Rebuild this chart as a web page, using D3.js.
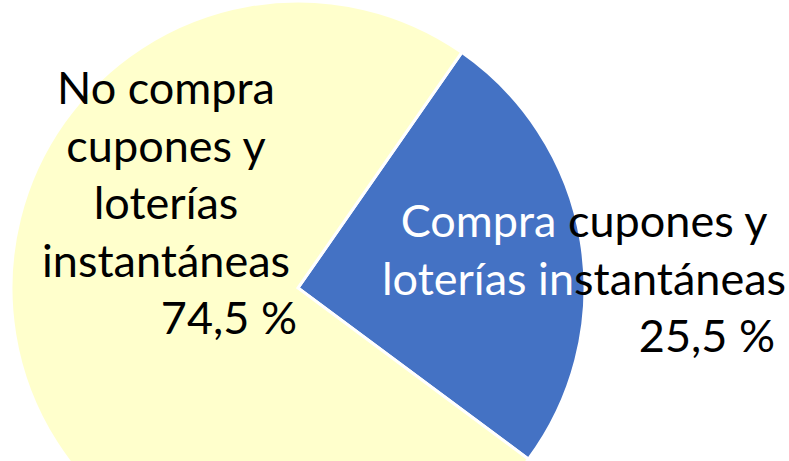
<!DOCTYPE html>
<html>
<head>
<meta charset="utf-8">
<script src="https://cdn.jsdelivr.net/npm/d3@7"></script>
<style>
  body { margin: 0; background: #fff; overflow: hidden; }
  text { font-family: Lato, "Open Sans", sans-serif; }
</style>
</head>
<body>
<script>
// Data
const categories = ["Compra cupones y loterías instantáneas", "No compra cupones y loterías instantáneas"];
const values = [25.5, 74.5];
const labelLines = [["Compra cupones y", "loterías instantáneas"], ["No compra", "cupones y", "loterías", "instantáneas"]];
const colors = ["#4472C4", "#FFFFCC"];

const W = 789, H = 461;
const cx = 298, cy = 288, r = 287;
const fontSize = 45;
const lineGap = 57.5;

// comma decimal like the original
const locale = d3.formatLocale({ decimal: ",", thousands: ".", grouping: [3], currency: ["", "€"] });
const fmt = locale.format(".1f");

const svg = d3.select("body").append("svg")
    .attr("width", W)
    .attr("height", H);

const g = svg.append("g").attr("transform", "translate(" + cx + "," + cy + ")");

// pie starts at the upper-right edge of the blue slice
const startA = 34.8 * Math.PI / 180;
const pie = d3.pie().sort(null).startAngle(startA).endAngle(startA + 2 * Math.PI);
const arcs = pie(values);
const arc = d3.arc().innerRadius(0).outerRadius(r);

g.selectAll("path.slice")
    .data(arcs)
    .enter().append("path")
    .attr("class", "slice")
    .attr("d", arc)
    .attr("fill", (d, i) => colors[i])
    .attr("stroke", "#fff")
    .attr("stroke-width", 3);

// label placement (block centre x, first baseline, right edge of percent)
const labelPos = [
    { x: 584, y: 237, px: 775 },
    { x: 166, y: 104, px: 297 }
];

// is a point (page coords) over the dark slice?
function overDark(x, y) {
    const dx = x - cx, dy = y - cy;
    if (Math.sqrt(dx * dx + dy * dy) > r) return false;
    let a = Math.atan2(dx, -dy);
    if (a < 0) a += 2 * Math.PI;
    return a >= arcs[0].startAngle && a <= arcs[0].endAngle;
}

labelLines.forEach(function (lines, k) {
    const pos = labelPos[k];
    const rows = lines.concat([fmt(values[k]) + " %"]);
    rows.forEach(function (txt, j) {
        const isPct = j === rows.length - 1;
        const base = pos.y + j * lineGap;
        const t = svg.append("text")
            .attr("x", isPct ? pos.px : pos.x)
            .attr("y", base)
            .attr("text-anchor", isPct ? "end" : "middle")
            .attr("font-size", fontSize);
        const chars = Array.from(txt);
        t.selectAll("tspan")
            .data(chars)
            .enter().append("tspan")
            .text(c => c);
        // colour each character by what sits under it
        const node = t.node();
        t.selectAll("tspan").attr("fill", function (c, i) {
            if (c === " ") return "#000";
            const ex = node.getEndPositionOfChar(i).x;
            return overDark(ex + 8, base - fontSize * 0.3) ? "#fff" : "#000";
        });
    });
});
</script>
</body>
</html>
